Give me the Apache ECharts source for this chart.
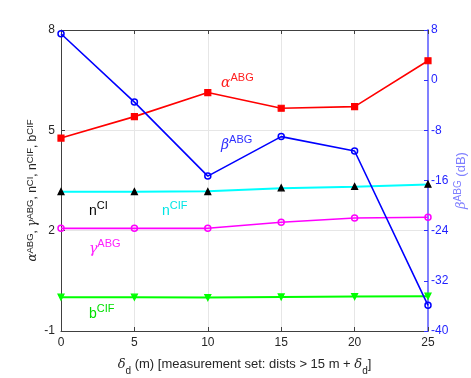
<!DOCTYPE html>
<html>
<head>
<meta charset="utf-8">
<script src="https://cdn.jsdelivr.net/npm/echarts@6/dist/echarts.min.js"></script>
<style>
html, body { margin: 0; background: #fff; }
#chart { width: 471px; height: 378px; }
</style>
</head>
<body>
<div id="chart"></div>
<script>
// x: delta_d (m)
const delta = [0, 5, 10, 15, 20, 25]
// left axis series
const alphaABG = [4.77, 5.41, 6.13, 5.66, 5.71, 7.08]
const nCI = [3.17, 3.17, 3.17, 3.28, 3.32, 3.39]
const nCIF = [3.16, 3.16, 3.18, 3.27, 3.31, 3.38]
const gammaABG = [2.07, 2.07, 2.07, 2.25, 2.38, 2.4]
const bCIF = [0.01, 0.01, 0.0, 0.02, 0.03, 0.04]
// right axis series (dB)
const betaABG = [7.4, -3.5, -15.3, -9.0, -11.3, -35.9]

const font = 'Liberation Sans'
const pairs = (arr) => delta.map((d, i) => [d, arr[i]])

// rich styles: m = normal, g = greek, s = superscript
const sup = (color, big, small, lh) => ({
  m: { fontSize: big || 14, color: color, fill: color, fontFamily: font, lineHeight: lh || 18, verticalAlign: 'bottom' },
  g: { fontSize: big || 14, color: color, fill: color, fontFamily: 'DejaVu Serif', fontStyle: 'italic', lineHeight: lh || 18, verticalAlign: 'bottom' },
  s: { fontSize: small || 11, color: color, fill: color, fontFamily: font, lineHeight: lh || 18, verticalAlign: 'top' }
})

const chart = echarts.init(document.getElementById('chart'))

function lineSeries(name, data, color, symbol, opts) {
  return Object.assign({
    name: name,
    type: 'line',
    data: pairs(data),
    symbol: symbol,
    symbolSize: 6,
    lineStyle: { color: color, width: 1.6 },
    itemStyle: { color: color, borderColor: color, borderWidth: 1.2 },
    animation: false
  }, opts || {})
}

const option = {
  animation: false,
  grid: { left: 61, right: 43, top: 30, bottom: 47, outerBoundsMode: 'none' },
  xAxis: [
    {
      type: 'value', min: 0, max: 25, interval: 5,
      name: '{g|δ}{b|d}{m| (m) [measurement set: dists > 15 m + }{g|δ}{b|d}{m|]}',
      nameLocation: 'middle', nameGap: 27, nameMoveOverlap: false,
      nameTextStyle: {
        rich: {
          m: { fontSize: 13, color: '#262626', fontFamily: font, lineHeight: 18, verticalAlign: 'top' },
          g: { fontSize: 13, color: '#262626', fontFamily: 'DejaVu Serif', fontStyle: 'italic', lineHeight: 18, verticalAlign: 'top' },
          b: { fontSize: 10, color: '#262626', fontFamily: font, lineHeight: 18, verticalAlign: 'bottom' }
        }
      },
      axisLine: { onZero: false, lineStyle: { color: '#404040' } },
      axisTick: { inside: true, length: 4, lineStyle: { color: '#404040' } },
      axisLabel: { color: '#262626', fontSize: 12, fontFamily: font, margin: 6 },
      splitLine: { show: true, lineStyle: { color: '#e6e6e6' } }
    },
    {
      type: 'value', position: 'top', min: 0, max: 25, interval: 5,
      axisLine: { show: true, onZero: false, lineStyle: { color: '#404040' } },
      axisTick: { show: true, inside: true, length: 4, lineStyle: { color: '#404040' } },
      axisLabel: { show: false },
      splitLine: { show: false }
    }
  ],
  yAxis: [
    {
      type: 'value', min: -1, max: 8, interval: 3,
      name: '{g|α}{s|ABG}{m|, }{g|γ}{s|ABG}{m|, n}{s|CI}{m|, n}{s|CIF}{m|, b}{s|CIF}',
      nameLocation: 'middle', nameGap: 22, nameRotate: 90, nameMoveOverlap: false,
      nameTextStyle: { rich: sup('#262626', 12, 9.5, 14), padding: [0, 20, 0, 0] },
      axisLine: { show: true, onZero: false, lineStyle: { color: '#404040' } },
      axisTick: { inside: true, length: 4, lineStyle: { color: '#404040' } },
      axisLabel: { color: '#262626', fontSize: 12, fontFamily: font, margin: 6 },
      splitLine: { show: true, lineStyle: { color: '#e6e6e6' } }
    },
    {
      type: 'value', min: -40, max: 8, interval: 8, position: 'right',
      name: '{g|β}{s|ABG}{m| (dB)}',
      nameLocation: 'middle', nameGap: 25, nameRotate: 90, nameMoveOverlap: false,
      nameTextStyle: { rich: sup('#7f7fff', 13, 10, 15) },
      axisLine: { show: true, onZero: false, lineStyle: { color: '#8080ff', width: 2 } },
      axisTick: { inside: true, length: 4, lineStyle: { color: '#3030ff' } },
      axisLabel: { color: '#1f1fff', fontSize: 12, fontFamily: font, margin: 3 },
      splitLine: { show: false }
    }
  ],
  graphic: [
    { type: 'text', left: 221, top: 72, style: { text: '{g|α}{s|ABG}', rich: sup('#ff2020') } },
    { type: 'text', left: 221, top: 134, style: { text: '{g|β}{s|ABG}', rich: sup('#3030ff') } },
    { type: 'text', left: 89, top: 200, style: { text: '{m|n}{s|CI}', rich: sup('#000000') } },
    { type: 'text', left: 162, top: 200, style: { text: '{m|n}{s|CIF}', rich: sup('#00e5e5') } },
    { type: 'text', left: 89, top: 238, style: { text: '{g|γ}{s|ABG}', rich: sup('#ff20ff') } },
    { type: 'text', left: 89, top: 303, style: { text: '{m|b}{s|CIF}', rich: sup('#00e000') } }
  ],
  series: [
    lineSeries('alpha', alphaABG, '#ff0000', 'rect'),
    lineSeries('nCIF', nCIF, '#00ffff', 'none', { lineStyle: { color: '#00ffff', width: 2 } }),
    lineSeries('nCI', nCI, '#000000', 'triangle', { lineStyle: { color: '#000000', width: 1, opacity: 0 } }),
    lineSeries('gamma', gammaABG, '#ff00ff', 'circle', { itemStyle: { color: 'rgba(0,0,0,0)', borderColor: '#ff00ff', borderWidth: 1.5 } }),
    lineSeries('bCIF', bCIF, '#00ff00', 'triangle', { symbolRotate: 180, lineStyle: { color: '#00ff00', width: 2 } }),
    lineSeries('beta', betaABG, '#0000ff', 'circle', { yAxisIndex: 1, itemStyle: { color: 'rgba(0,0,0,0)', borderColor: '#0000ff', borderWidth: 1.5 } })
  ]
}

chart.setOption(option)
</script>
</body>
</html>
